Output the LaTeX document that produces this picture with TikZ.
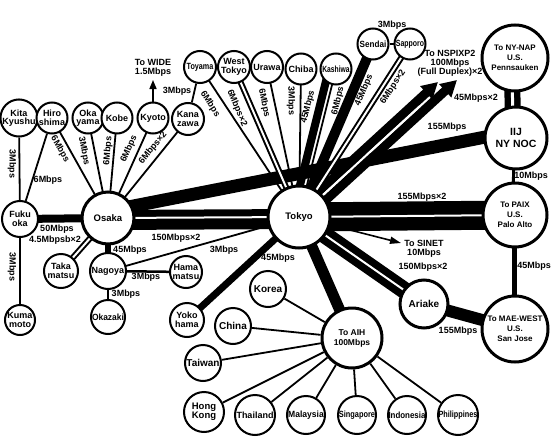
\documentclass[tikz,border=0pt]{standalone}
\usepackage{fontspec}
\setmainfont{Liberation Sans}
\usepackage{graphicx}
\usetikzlibrary{arrows.meta}
\pgfdeclarelayer{bg}
\pgfsetlayers{bg,main}
\newcommand{\sqz}[2]{\scalebox{#1}[1]{#2}}
\begin{document}
\begin{tikzpicture}[x=1pt,y=-1pt,
  city/.style={circle,draw=black,fill=white,line width=2pt,inner sep=0pt,align=center,font=\fontsize{9}{8.5}\selectfont\bfseries},
  hub/.style={city,line width=3pt},
  usnode/.style={hub,font=\fontsize{8}{10}\selectfont\bfseries},
  big/.style={font=\fontsize{10}{10}\selectfont\bfseries},
  lbl/.style={inner sep=0pt,align=center,font=\fontsize{9}{9}\selectfont\bfseries},
  link/.style={line width=1.8pt},
  gapline/.style={white,line width=2pt},
]
\useasboundingbox (0,0) rectangle (552,442);
% ---------------- nodes ----------------
\node[hub,minimum size=62pt,font=\fontsize{9.5}{10}\selectfont\bfseries] (Tokyo) at (299,217) {Tokyo};
\node[hub,minimum size=52pt,font=\fontsize{9.5}{10}\selectfont\bfseries] (Osaka) at (108,218) {Osaka};
\node[city,minimum size=36pt] (Fukuoka) at (20,219) {Fuku\\oka};
\node[city,minimum size=32pt] (KitaKyushu) at (19,118) {Kita\\Kyushu};
\node[city,minimum size=31pt] (Hiroshima) at (52,118) {Hiro\\shima};
\node[city,minimum size=31pt] (Okayama) at (88,118) {Oka\\yama};
\node[city,minimum size=31pt] (Kobe) at (117,118) {Kobe};
\node[city,minimum size=31pt] (Kyoto) at (153,118) {Kyoto};
\node[city,minimum size=32pt] (Kanazawa) at (188,119) {Kana\\zawa};
\node[city,minimum size=32pt] (Toyama) at (200,67) {\sqz{0.8}{Toyama}};
\node[city,minimum size=32pt] (WestTokyo) at (234,67) {West\\Tokyo};
\node[city,minimum size=32pt] (Urawa) at (267,67) {Urawa};
\node[city,minimum size=31pt] (Chiba) at (301,69) {Chiba};
\node[city,minimum size=31pt] (Kashiwa) at (336,69) {\sqz{0.75}{Kashiwa}};
\node[city,minimum size=31pt] (Sendai) at (373,44) {\sqz{0.9}{Sendai}};
\node[city,minimum size=31pt] (Sapporo) at (410,44) {\sqz{0.77}{Sapporo}};
\node[usnode,minimum size=66pt] (NYNAP) at (515,58) {To NY-NAP\\U.S.\\Pennsauken};
\node[hub,minimum size=62pt,font=\fontsize{10.5}{12}\selectfont\bfseries] (IIJ) at (516,138) {IIJ\\NY NOC};
\node[usnode,minimum size=64pt] (PAIX) at (515,215) {To PAIX\\U.S.\\Palo Alto};
\node[hub,minimum size=48pt,big] (Ariake) at (424,304) {Ariake};
\node[usnode,minimum size=66pt] (MAEWEST) at (515,329) {To MAE-WEST\\U.S.\\San Jose};
\node[hub,minimum size=60pt,font=\fontsize{8.5}{10}\selectfont\bfseries] (AIH) at (352,338) {To AIH\\100Mbps};
\node[city,minimum size=36pt,big] (Korea) at (268,289) {Korea};
\node[city,minimum size=36pt,big] (China) at (233,326) {China};
\node[city,minimum size=34pt] (Yokohama) at (187,320) {Yoko\\hama};
\node[city,minimum size=32pt] (Hamamatsu) at (186,272) {Hama\\matsu};
\node[city,minimum size=36pt] (Nagoya) at (108,271) {Nagoya};
\node[city,minimum size=34pt] (Takamatsu) at (61,271) {Taka\\matsu};
\node[city,minimum size=34pt] (Okazaki) at (108,317) {\sqz{0.94}{Okazaki}};
\node[city,minimum size=30pt] (Kumamoto) at (20,320) {Kuma\\moto};
\node[city,minimum size=36pt,big] (Taiwan) at (203,363) {Taiwan};
\node[city,minimum size=40pt,font=\fontsize{9.5}{9}\selectfont\bfseries] (HongKong) at (204,412) {Hong\\Kong};
\node[city,minimum size=40pt] (Thailand) at (255,415) {Thailand};
\node[city,minimum size=38pt] (Malaysia) at (306,415) {\sqz{0.95}{Malaysia}};
\node[city,minimum size=38pt] (Singapore) at (357,415) {\sqz{0.82}{Singapore}};
\node[city,minimum size=38pt] (Indonesia) at (407,415) {\sqz{0.88}{Indonesia}};
\node[city,minimum size=40pt] (Philippines) at (458,415) {\sqz{0.81}{Philippines}};
% free ends of arrows
\coordinate (WIDEtip) at (153,80);
\coordinate (SINETtip) at (401,243);
\coordinate (NSPa) at (438,82);
\coordinate (NSPb) at (457,80);
\coordinate (NSPgap) at (420,106);
% ---------------- connectors ----------------
\begin{pgfonlayer}{bg}
\draw[line width=13pt] ([yshift=7pt]Osaka.center) -- ([yshift=7pt]IIJ.center);
\draw[line width=29pt] (Tokyo.center) -- (PAIX.center);
\draw[line width=20pt] ([yshift=-2pt]Osaka.center) -- ([yshift=-2pt]Tokyo.center);
\draw[line width=8pt] (Fukuoka.center) -- (Osaka.center);
\draw[link] (KitaKyushu) -- (Fukuoka);
\draw[link] (Hiroshima) -- (Fukuoka);
\draw[link] (Fukuoka) -- (Kumamoto);
\draw[link] (Hiroshima.center) -- (Osaka.center);
\draw[link] (Okayama.center) -- (Osaka.center);
\draw[link] (Kobe.center) -- (Osaka.center);
\draw[link] (Kyoto.center) -- (Osaka.center);
\draw[link] (Kanazawa.center) -- (Osaka.center);
\draw[link] (Kanazawa) -- (Toyama);
\draw[line width=1.6pt,-{Triangle[length=9pt,width=7pt]}] (Kyoto) -- (WIDEtip);
\draw[line width=6pt] (Osaka.center) -- (Nagoya.center);
\draw[line width=6pt] (Osaka.center) -- (Takamatsu.center);
\draw[line width=2.5pt] (Nagoya) -- (Hamamatsu);
\draw[link] (Nagoya) -- (Okazaki);
\draw[link] (Nagoya.center) -- (Tokyo.center);
\draw[line width=7pt] (Tokyo.center) -- (Yokohama.center);
\draw[line width=11pt] (Tokyo.center) -- (AIH.center);
\draw[line width=17pt] (Tokyo.center) -- (Ariake.center);
\draw[line width=1.6pt,-{Triangle[length=11pt,width=7pt]}] (Tokyo) -- (SINETtip);
\draw[line width=12pt] (Ariake.center) -- (MAEWEST.center);
\draw[line width=5pt] ([xshift=-1pt]PAIX.center) -- ([xshift=-1pt]MAEWEST.center);
\draw[line width=3pt] ([xshift=-2pt]IIJ.center) -- ([xshift=-2pt]PAIX.center);
\draw[line width=16pt] ([xshift=-3pt]NYNAP.center) -- ([xshift=-3pt]IIJ.center);
\draw[link] (Toyama.center) -- (Tokyo.center);
\draw[line width=6pt] (WestTokyo.center) -- (Tokyo.center);
\draw[link] (Urawa.center) -- (Tokyo.center);
\draw[link] (Chiba.center) -- (Tokyo.center);
\draw[line width=8pt] ([xshift=-7pt]Kashiwa.center) -- ([xshift=-7pt]Tokyo.center);
\draw[link] (Kashiwa.center) -- (Tokyo.center);
\draw[line width=10pt] (Sendai.center) -- (Tokyo.center);
\draw[line width=6pt] (Sapporo.center) -- (Tokyo.center);
\draw[link] (Sendai) -- (Sapporo);
\draw[line width=9pt,-{Triangle[length=16pt,width=17pt]}] ([shift={(-4pt,4pt)}]Tokyo.center) -- (NSPa);
\draw[line width=9pt,-{Triangle[length=16pt,width=17pt]}] ([shift={(4pt,-4pt)}]Tokyo.center) -- (NSPb);
\draw[link] (AIH) -- (Korea);
\draw[link] (AIH) -- (China);
\draw[link] (AIH) -- (Taiwan);
\draw[link] (AIH) -- (HongKong);
\draw[link] (AIH) -- (Thailand);
\draw[link] (AIH) -- (Malaysia);
\draw[link] (AIH) -- (Singapore);
\draw[link] (AIH) -- (Indonesia);
\draw[link] (AIH) -- (Philippines);
% white gaps of doubled links
\draw[gapline] (Tokyo.center) -- (PAIX.center);
\draw[gapline] (Osaka.center) -- (Tokyo.center);
\draw[gapline] (Osaka.center) -- (Takamatsu.center);
\draw[gapline] (Tokyo.center) -- (Ariake.center);
\draw[gapline,line width=3pt] ([xshift=-3pt]NYNAP.center) -- ([xshift=-3pt]IIJ.center);
\draw[gapline] (WestTokyo.center) -- (Tokyo.center);
\draw[gapline] (Sapporo.center) -- (Tokyo.center);
\draw[gapline] (Tokyo.center) -- (NSPgap);
\end{pgfonlayer}
% ---------------- labels ----------------
\node[lbl,rotate=-90] (lab1) at (12,164) {3Mbps};
\node[lbl] (lab2) at (48,180) {6Mbps};
\node[lbl,rotate=-60] (lab3) at (60,149) {6Mbps};
\node[lbl,rotate=-79] (lab4) at (84,151) {3Mbps};
\node[lbl,rotate=85] (lab5) at (108,151) {6Mbps};
\node[lbl,rotate=66] (lab6) at (129,149) {6Mbps};
\node[lbl,rotate=51] (lab7) at (153,148) {6Mbps×2};
\node[lbl] (lab8) at (153,68) {To WIDE\\1.5Mbps};
\node[lbl] (lab9) at (177,91) {3Mbps};
\node[lbl,rotate=-57] (lab10) at (210,104) {6Mbps};
\node[lbl,rotate=-67] (lab11) at (237,108) {6Mbps×2};
\node[lbl,rotate=-78] (lab12) at (264,103) {6Mbps};
\node[lbl,rotate=-89] (lab13) at (291,101) {3Mbps};
\node[lbl,rotate=76] (lab14) at (308,107) {45Mbps};
\node[lbl,rotate=76] (lab15) at (338,101) {6Mbps};
\node[lbl,rotate=67] (lab16) at (364,90) {45Mbps};
\node[lbl,rotate=57] (lab17) at (393,87) {6Mbps×2};
\node[lbl] (lab18) at (392,25) {3Mbps};
\node[lbl] (lab19) at (450,63) {To NSPIXP2\\100Mbps\\(Full Duplex)×2};
\node[lbl] (lab20) at (476,98) {45Mbps×2};
\node[lbl] (lab21) at (447,127) {155Mbps};
\node[lbl] (lab22) at (531,176) {10Mbps};
\node[lbl] (lab23) at (422,197) {155Mbps×2};
\node[lbl] (lab24) at (424,249) {To SINET\\10Mbps};
\node[lbl] (lab25) at (423,267) {150Mbps×2};
\node[lbl] (lab26) at (534,266) {45Mbps};
\node[lbl] (lab27) at (458,331) {155Mbps};
\node[lbl] (lab28) at (278,258) {45Mbps};
\node[lbl] (lab29) at (224,250) {3Mbps};
\node[lbl] (lab30) at (176,238) {150Mbps×2};
\node[lbl] (lab31) at (130,250) {45Mbps};
\node[lbl] (lab32) at (57,229) {50Mbps};
\node[lbl] (lab33) at (55,240) {4.5Mbpsb×2};
\node[lbl] (lab34) at (146,277) {3Mbps};
\node[lbl] (lab35) at (126,294) {3Mbps};
\node[lbl,rotate=-90] (lab36) at (12,267) {3Mbps};
\end{tikzpicture}
\end{document}
